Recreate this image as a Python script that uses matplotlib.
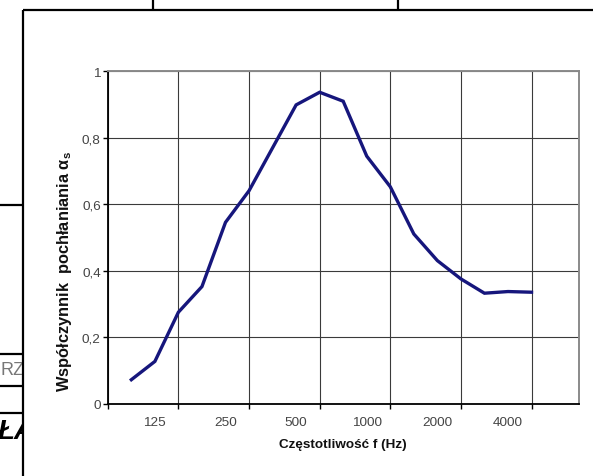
import matplotlib
matplotlib.use("Agg")
import matplotlib.pyplot as plt
import numpy as np
from matplotlib.patches import Rectangle

# ---- data ----
categories = ['100', '125', '160', '200', '250', '315', '400', '500', '630',
              '800', '1000', '1250', '1600', '2000', '2500', '3150', '4000', '5000']
alpha_s = [0.073, 0.128, 0.276, 0.353, 0.546, 0.641, 0.770, 0.899, 0.937,
           0.910, 0.745, 0.653, 0.511, 0.431, 0.376, 0.333, 0.338, 0.336]
shown_labels = ['125', '250', '500', '1000', '2000', '4000']
y_ticks = [0, 0.2, 0.4, 0.6, 0.8, 1.0]
y_ticklabels = ['0', '0,2', '0,4', '0,6', '0,8', '1']
x_title = 'Częstotliwość f (Hz)'
y_title = r'Współczynnik  pochłaniania $\mathbf{α_s}$'

plt.rcParams['font.family'] = ['Liberation Sans', 'DejaVu Sans']
plt.rcParams['mathtext.fontset'] = 'custom'
plt.rcParams['mathtext.bf'] = 'Liberation Sans:bold'
plt.rcParams['mathtext.rm'] = 'Liberation Sans'

W, H = 593, 477
fig = plt.figure(figsize=(W / 100, H / 100), dpi=100)
fig.patch.set_facecolor('white')

# ---- decorative document frame (overlay in pixel coordinates) ----
deco = fig.add_axes([0, 0, 1, 1], zorder=0)
deco.set_xlim(0, W)
deco.set_ylim(H, 0)
deco.axis('off')
lw_frame = 1.6
deco.plot([22.5, 22.5], [11.3, H], color='black', lw=lw_frame, solid_capstyle='butt')
deco.plot([22.5, W], [11.3, 11.3], color='black', lw=lw_frame, solid_capstyle='butt')
for xx in (152.5, 398.0):
    deco.plot([xx, xx], [0, 11.3], color='black', lw=lw_frame, solid_capstyle='butt')
for yy in (206, 355, 387, 414):
    deco.plot([0, 22.5], [yy, yy], color='black', lw=lw_frame, solid_capstyle='butt')
t1 = deco.text(1, 371, 'RZ', fontsize=13, color='#777777', va='center', ha='left',
               clip_on=True)
t2 = deco.text(-3, 432, 'ŁA', fontsize=20, color='black', fontweight='bold',
               style='italic', va='center', ha='left', clip_on=True)
clip_rect = Rectangle((0, 0), 21.5, H, transform=deco.transData)
t1.set_clip_path(clip_rect)
t2.set_clip_path(clip_rect)

# ---- chart ----
left, right, top, bottom = 107.8, 578.6, 72.3, 405.0
ax = fig.add_axes([left / W, (H - bottom) / H, (right - left) / W, (bottom - top) / H],
                  zorder=2)
ax.set_facecolor('white')

x = np.arange(len(categories))
ax.plot(x, alpha_s, color='#16167c', lw=2.4, solid_joinstyle='miter', zorder=3)

ax.set_xlim(-1, len(categories) + 1)
ax.set_ylim(0, 1)

# gridlines on category boundaries every 3 categories
ax.set_xticks(np.arange(-1, len(categories), 3))
ax.set_xticklabels([])
ax.set_xticks([categories.index(l) for l in shown_labels], minor=True)
ax.set_xticklabels(shown_labels, minor=True)
ax.tick_params(axis='x', which='minor', length=0, pad=9, labelsize=9.7,
               labelcolor='#444444')
ax.tick_params(axis='x', which='major', length=3.5, direction='out', width=1.0,
               color='black')

ax.set_yticks(y_ticks)
ax.set_yticklabels(y_ticklabels)
ax.tick_params(axis='y', length=3.5, direction='out', width=1.0, pad=1.5,
               labelsize=9.7, labelcolor='#444444', color='black')

ax.grid(True, which='major', color='#3a3a3a', lw=0.8)
ax.set_axisbelow(True)

for s in ('left', 'bottom'):
    ax.spines[s].set_color('black')
    ax.spines[s].set_linewidth(1.3)
for s in ('top', 'right'):
    ax.spines[s].set_color('#8a8a8a')
    ax.spines[s].set_linewidth(1.4)

ax.text(0.5, (bottom - 448) / (bottom - top), x_title, transform=ax.transAxes,
        ha='center', va='baseline', fontsize=9.7, fontweight='bold', color='#111111')

fig.text(64 / W, 1 - 271 / H, y_title, rotation=90, ha='center', va='center',
         fontsize=11.8, fontweight='bold', color='#111111')

fig.savefig('out.png', dpi=100, facecolor='white')
